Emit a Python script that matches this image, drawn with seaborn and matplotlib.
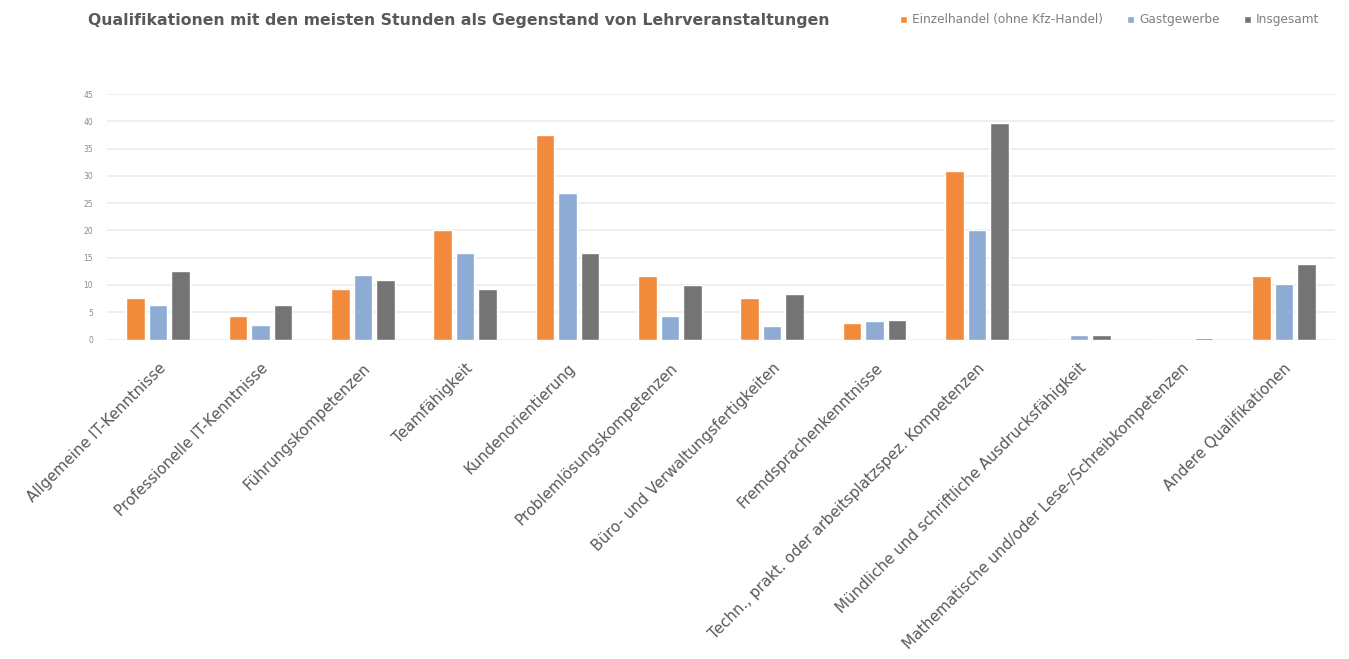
import matplotlib
matplotlib.use("Agg")
import matplotlib.pyplot as plt
import seaborn as sns
import pandas as pd

categories = [
    "Allgemeine IT-Kenntnisse",
    "Professionelle IT-Kenntnisse",
    "Führungskompetenzen",
    "Teamfähigkeit",
    "Kundenorientierung",
    "Problemlösungskompetenzen",
    "Büro- und Verwaltungsfertigkeiten",
    "Fremdsprachenkenntnisse",
    "Techn., prakt. oder arbeitsplatzspez. Kompetenzen",
    "Mündliche und schriftliche Ausdrucksfähigkeit",
    "Mathematische und/oder Lese-/Schreibkompetenzen",
    "Andere Qualifikationen",
]
series_names = ["Einzelhandel (ohne Kfz-Handel)", "Gastgewerbe", "Insgesamt"]
einzelhandel = [7.6, 4.3, 9.2, 20.0, 37.5, 11.7, 7.6, 3.0, 30.9, 0.0, 0.0, 11.7]
gastgewerbe = [6.3, 2.6, 11.8, 15.9, 26.8, 4.3, 2.5, 3.4, 20.0, 0.9, 0.0, 10.1]
insgesamt = [12.6, 6.3, 10.9, 9.2, 15.9, 10.0, 8.4, 3.5, 39.6, 0.8, 0.3, 13.9]
y_ticks = [0, 5, 10, 15, 20, 25, 30, 35, 40, 45]
title = "Qualifikationen mit den meisten Stunden als Gegenstand von Lehrveranstaltungen"

colors = ["#F28A3B", "#8DABD3", "#747474"]

df = pd.DataFrame({
    "Kategorie": categories * 3,
    "Serie": [series_names[0]] * len(categories) + [series_names[1]] * len(categories) + [series_names[2]] * len(categories),
    "Wert": einzelhandel + gastgewerbe + insgesamt,
})

sns.set_theme(style="white")
plt.rcParams["font.family"] = ["DejaVu Sans"]

fig = plt.figure(figsize=(13.49, 6.59), dpi=100)
ax = fig.add_axes([107 / 1349, 1 - 339.5 / 659, (1335 - 107) / 1349, (339.5 - 94) / 659])

sns.barplot(data=df, x="Kategorie", y="Wert", hue="Serie", order=categories,
            hue_order=series_names, palette=colors, width=0.66, gap=0.18,
            saturation=1, ax=ax, legend=True)

ax.set_ylim(0, 45)
ax.set_yticks(y_ticks)
ax.set_yticklabels([str(t) for t in y_ticks], fontsize=5.5, color="#8c8c8c")
ax.set_xlim(-0.5, len(categories) - 0.5)
ax.yaxis.grid(True, color="#ececec", linewidth=1.2)
ax.set_axisbelow(True)
for s in ax.spines.values():
    s.set_visible(False)
ax.tick_params(axis="both", length=0)
ax.tick_params(axis="y", pad=10)
ax.tick_params(axis="x", pad=15)
ax.set_xlabel("")
ax.set_ylabel("")
ax.set_xticks(range(len(categories)))
ax.set_xticklabels(categories, rotation=45, ha="right", rotation_mode="anchor",
                   fontsize=10.8, color="#595959")

handles, labels = ax.get_legend_handles_labels()
ax.get_legend().remove()
fig.legend(handles, labels, loc="center left", bbox_to_anchor=(889 / 1349, 1 - 20 / 659),
           ncol=3, frameon=False, fontsize=8.7, handlelength=0.55, handleheight=0.55,
           handletextpad=0.45, columnspacing=2.0, labelcolor="#7f7f7f")

fig.text(88 / 1349, 1 - 20 / 659, title, fontsize=11.3, fontweight="bold",
         color="#595959", va="center", ha="left")

fig.savefig("out.png", dpi=100, facecolor="white")
